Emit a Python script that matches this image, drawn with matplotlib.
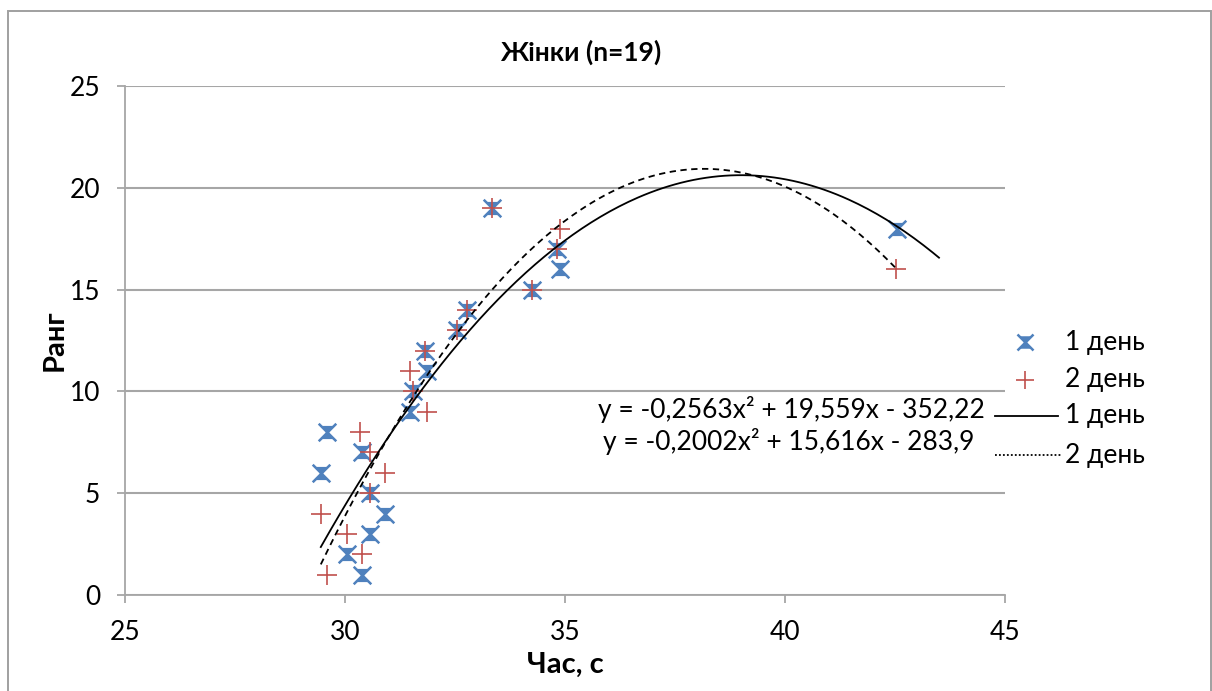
import numpy as np
import matplotlib.pyplot as plt
from matplotlib.path import Path
from matplotlib.lines import Line2D
from matplotlib.patches import Rectangle

W, H = 1212, 691

RANK = [1, 2, 3, 4, 5, 6, 7, 8, 9, 10, 11, 12, 13, 14, 15, 16, 17, 18, 19]
DAY1_TIME = [30.38, 30.04, 30.57, 30.91, 30.57, 29.45, 30.38, 29.58, 31.48, 31.55,
             31.86, 31.82, 32.54, 32.77, 34.24, 34.89, 34.81, 42.55, 33.33]
DAY2_TIME = [29.58, 30.38, 30.04, 29.45, 30.57, 30.91, 30.57, 30.34, 31.86, 31.55,
             31.48, 31.82, 32.54, 32.77, 34.24, 42.52, 34.81, 34.89, 33.35]

# trend polynomials as printed on the chart (solid curve / dashed curve)
SOLID_COEF = [-0.2002, 15.616, -283.9]
SOLID_RANGE = [29.45, 43.5]
DASHED_COEF = [-0.2563, 19.559, -352.22]
DASHED_RANGE = [29.45, 42.5]

EQ_TEXT = ["y = -0,2563x² + 19,559x - 352,22", "y = -0,2002x² + 15,616x - 283,9"]
LEGEND_LABELS = ["1 день", "2 день", "1 день", "2 день"]

BLUE = "#4F81BD"
RED = "#C0504D"
GRID = "#A6A6A6"
FONT = ["Lato", "Open Sans", "DejaVu Sans"]

plt.rcParams["font.family"] = FONT


def px(x, y):
    return x / W, 1 - y / H


# filled hourglass, drawn under an 'x' stroke to mimic the Excel marker
HOURGLASS = Path([(-1, 1), (1, 1), (-1, -1), (1, -1), (-1, 1)],
                 [Path.MOVETO, Path.LINETO, Path.LINETO, Path.LINETO, Path.CLOSEPOLY])

fig = plt.figure(figsize=(W / 100, H / 100), dpi=100)
fig.patch.set_facecolor("white")
ax = fig.add_axes([125 / W, 1 - 595 / H, 880 / W, 509 / H])

ax.scatter(DAY1_TIME, RANK, marker=HOURGLASS, s=90, color=BLUE, linewidths=0, zorder=3)
ax.scatter(DAY1_TIME, RANK, marker="x", s=160, color=BLUE, linewidths=1.8, zorder=3)
ax.scatter(DAY2_TIME, RANK, marker="+", s=190, color=RED, linewidths=1.2, zorder=4)

xs = np.linspace(SOLID_RANGE[0], SOLID_RANGE[1], 200)
ax.plot(xs, np.polyval(SOLID_COEF, xs), color="black", lw=1.3, zorder=5)
xd = np.linspace(DASHED_RANGE[0], DASHED_RANGE[1], 200)
ax.plot(xd, np.polyval(DASHED_COEF, xd), color="black", lw=1.3, ls=(0, (3.5, 2.5)), zorder=5)

ax.set_xlim(25, 45)
ax.set_ylim(0, 25)
ax.set_xticks([25, 30, 35, 40, 45])
ax.set_yticks([0, 5, 10, 15, 20, 25])
ax.grid(axis="y", color=GRID, lw=1.5, zorder=0)
ax.set_axisbelow(True)
for s in ["top", "right"]:
    ax.spines[s].set_visible(False)
for s in ["left", "bottom"]:
    ax.spines[s].set_color(GRID)
    ax.spines[s].set_linewidth(1.3)
ax.tick_params(axis="both", colors=GRID, length=6, width=1.3, labelsize=19,
               labelcolor="black")
ax.tick_params(axis="x", pad=12)
ax.tick_params(axis="y", pad=12)

fig.text(*px(581, 52), "Жінки (n=19)", ha="center", va="center",
         fontsize=19, fontweight="bold")
fig.text(*px(565, 665), "Час, с", ha="center", va="center",
         fontsize=21, fontweight="bold")
fig.text(*px(55, 340), "Ранг", ha="center", va="center", rotation=90,
         fontsize=21, fontweight="bold")

fig.text(*px(598, 418), EQ_TEXT[0], ha="left", va="baseline", fontsize=19)
fig.text(*px(603, 450), EQ_TEXT[1], ha="left", va="baseline", fontsize=19)

# legend, laid out by hand like the Excel one
rows = [342, 380, 416, 455]
mx, my = px(1025, rows[0])
fig.add_artist(Line2D([mx], [my], marker=HOURGLASS, ms=9, color=BLUE, mew=0,
                      transform=fig.transFigure))
fig.add_artist(Line2D([mx], [my], marker="x", ms=12, color=BLUE, mew=1.8,
                      transform=fig.transFigure))
mx, my = px(1025, rows[1])
fig.add_artist(Line2D([mx], [my], marker="+", ms=13, color=RED, mew=1.2,
                      transform=fig.transFigure))
x0, y0 = px(995, rows[2])
x1, _ = px(1058, rows[2])
fig.add_artist(Line2D([x0, x1], [y0, y0], color="black", lw=1.3, transform=fig.transFigure))
x0, y0 = px(995, rows[3])
x1, _ = px(1062, rows[3])
fig.add_artist(Line2D([x0, x1], [y0, y0], color="black", lw=1.3, ls=(0, (1, 1.2)),
                      transform=fig.transFigure))
for r, lab in zip(rows, LEGEND_LABELS):
    fig.text(*px(1065, r), lab, ha="left", va="center", fontsize=19)

# chart area border
bx, by = px(8, 11)
fig.add_artist(Rectangle((bx, -0.1), (1211 - 8) / W, by + 0.1, transform=fig.transFigure,
                         fill=False, edgecolor="#A0A0A0", lw=1.4))

fig.savefig("out.png", dpi=100)
